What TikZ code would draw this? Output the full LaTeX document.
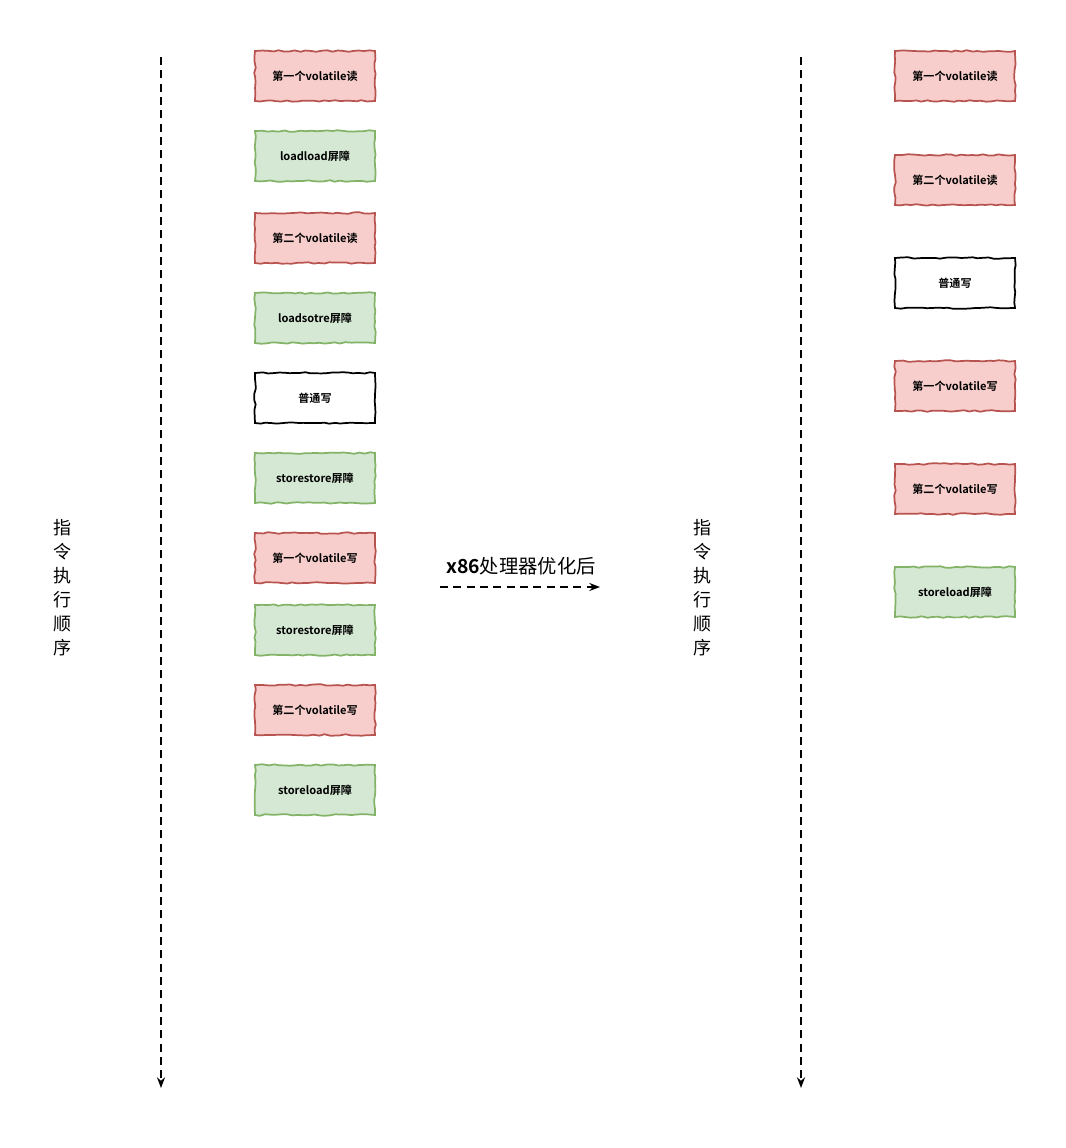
\documentclass[tikz,border=0pt]{standalone}
\usepackage{fontspec}
\newfontfamily\cjk{Noto Sans CJK SC}
\newfontfamily\cjkb{Noto Sans CJK SC Bold}
\usetikzlibrary{decorations.pathmorphing,arrows.meta}
\definecolor{redfill}{HTML}{F8CECC}
\definecolor{reddraw}{HTML}{B85450}
\definecolor{greenfill}{HTML}{D5E8D4}
\definecolor{greendraw}{HTML}{82B366}
\begin{document}
\begin{tikzpicture}
		[x=0.75pt,y=-0.75pt,
		box/.style={minimum width=90pt,minimum height=37.5pt,inner sep=0pt,
			font=\cjkb\fontsize{8.3}{10}\selectfont,line width=1.3pt,
			decorate,decoration={random steps,segment length=4pt,amplitude=0.6pt}},
		readbox/.style={box,draw=reddraw,fill=redfill},
		barrier/.style={box,draw=greendraw,fill=greenfill},
		plainbox/.style={box,draw=black},
		timeline/.style={dash pattern=on 6pt off 4pt,line width=1.4pt,
			-{Stealth[length=8pt,width=6pt]}},
		order/.style={font=\cjk\fontsize{13.5}{18}\selectfont,align=center}
		]
		\useasboundingbox (0,0) rectangle (1066,1148);
		% left column
		\node[readbox] (l1) at (315,76) {第一个volatile读};
		\node[barrier] (l2) at (315,156) {loadload屏障};
		\node[readbox] (l3) at (315,238) {第二个volatile读};
		\node[barrier] (l4) at (315,318) {loadsotre屏障};
		\node[plainbox] (l5) at (315,398) {普通写};
		\node[barrier] (l6) at (315,478) {storestore屏障};
		\node[readbox] (l7) at (315,558) {第一个volatile写};
		\node[barrier] (l8) at (315,630) {storestore屏障};
		\node[readbox] (l9) at (315,710) {第二个volatile写};
		\node[barrier] (l10) at (315,790) {storeload屏障};
		% right column
		\node[readbox] (r1) at (955,76) {第一个volatile读};
		\node[readbox] (r2) at (955,180) {第二个volatile读};
		\node[plainbox] (r3) at (955,283) {普通写};
		\node[readbox] (r4) at (955,386) {第一个volatile写};
		\node[readbox] (r5) at (955,489) {第二个volatile写};
		\node[barrier] (r6) at (955,592) {storeload屏障};
		% time lines
		\coordinate (ltop) at (161,57);
		\coordinate (lbot) at (161,1088);
		\coordinate (rtop) at (801,57);
		\coordinate (rbot) at (801,1088);
		\draw[timeline] (ltop) -- (lbot);
		\draw[timeline] (rtop) -- (rbot);
		\node[order] (lorder) at (62,588) {指\\令\\执\\行\\顺\\序};
		\node[order] (rorder) at (702,588) {指\\令\\执\\行\\顺\\序};
		% optimisation
		\coordinate (from) at (440,587);
		\coordinate (to) at (600,587);
		\draw[timeline] (from) -- (to);
		\node[font=\fontsize{14.5}{16}\selectfont] (opt) at (521,566)
			{{\cjkb x86}{\cjk 处理器优化后}};
	\end{tikzpicture}
\end{document}
